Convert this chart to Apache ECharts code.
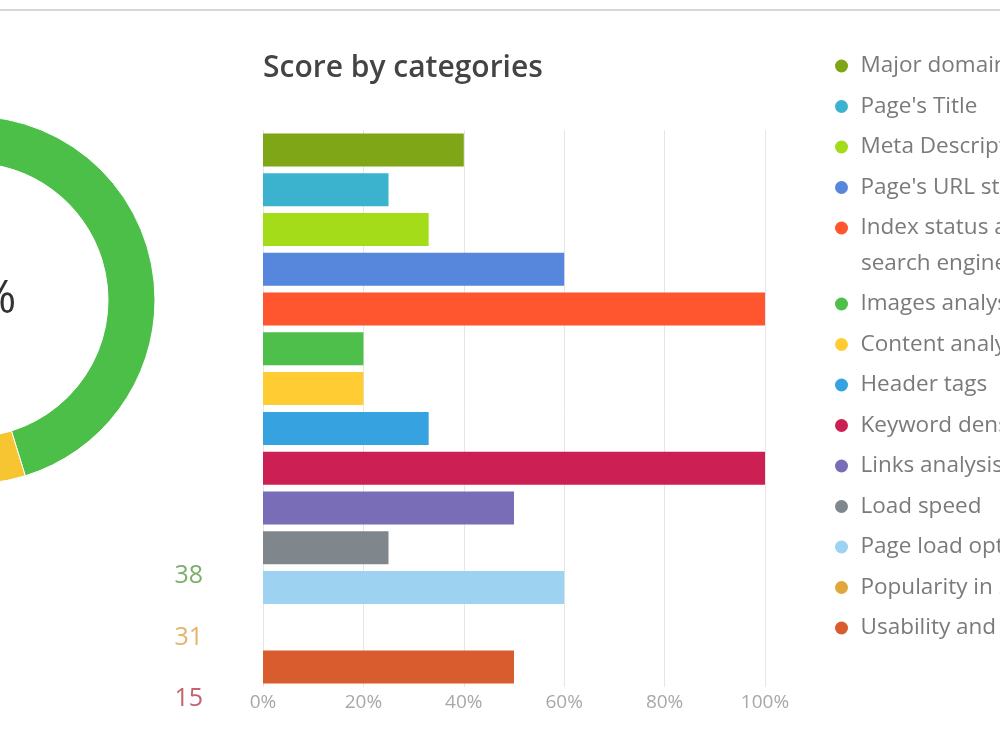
<!DOCTYPE html>
<html>
<head>
<meta charset="utf-8">
<script src="https://cdn.jsdelivr.net/npm/echarts@6/dist/echarts.min.js"></script>
<style>
  html, body { margin: 0; padding: 0; background: #fff; }
  #main { width: 1000px; height: 750px; }
</style>
</head>
<body>
<div id="main"></div>
<script>
// bar chart data
var categories = [
  'Major domain name', "Page's Title", 'Meta Description', "Page's URL structure",
  'Index status and search engines', 'Images analysis', 'Content analysis', 'Header tags',
  'Keyword density', 'Links analysis', 'Load speed', 'Page load optimization',
  'Popularity in social networks', 'Usability and accessibility'
];
var scores = [40, 25, 33, 60, 100, 20, 20, 33, 100, 50, 25, 60, 0, 50];
var barColors = [
  '#7ea617', '#3bb3cf', '#a5dc19', '#5687dc', '#ff5630', '#4dbf4a', '#ffcc33',
  '#36a2e0', '#cc1f53', '#7a6db8', '#7f878c', '#9dd2f0', '#e0a83a', '#d85c2e'
];
var xTicks = [0, 20, 40, 60, 80, 100];

// donut on the left
var donutNames = ['Passed', 'Warnings', 'Errors'];
var donutValues = [38, 31, 15];
var donutColors = ['#4cbf48', '#f7c531', '#d9534f'];
var donutTextColors = ['#7ab06a', '#e6b36a', '#c4626e'];

var total = donutValues.reduce(function (a, b) { return a + b; }, 0);
var pct = Math.round(donutValues[0] / total * 100) + '%';

var chart = echarts.init(document.getElementById('main'));

var series = categories.map(function (name, i) {
  return {
    name: name,
    type: 'bar',
    stack: 'all',
    barWidth: 33,
    itemStyle: { color: barColors[i] },
    data: categories.map(function (c, j) { return j === i ? scores[i] : '-'; })
  };
});

series.push({
  type: 'pie',
  center: [-29, 300],
  radius: [137, 184],
  startAngle: 90,
  silent: true,
  label: { show: false },
  itemStyle: { borderColor: '#fff', borderWidth: 1 },
  data: donutNames.map(function (n, i) {
    return { name: n, value: donutValues[i], itemStyle: { color: donutColors[i] } };
  })
});

var legendBase = {
  orient: 'vertical',
  left: 830,
  icon: 'circle',
  itemWidth: 28,
  itemHeight: 13,
  itemGap: 0.5,
  selectedMode: false,
  textStyle: { fontFamily: 'Open Sans', fontSize: 22.5, color: '#7a7a7a', lineHeight: 40 }
};

var graphics = [
  { type: 'rect', shape: { x: 0, y: 9, width: 1000, height: 2 }, style: { fill: '#d6d6d6' } },
  { type: 'text', x: -29, y: 300,
    style: { text: pct, font: '46px "Open Sans"', fill: '#333', align: 'center', verticalAlign: 'middle' } },
  { type: 'text', x: 861, y: 264,
    style: { text: 'search engines', font: '22.5px "Open Sans"', fill: '#7a7a7a', align: 'left', verticalAlign: 'middle' } }
];
donutValues.forEach(function (v, i) {
  graphics.push({
    type: 'text', x: 203, y: 576 + i * 61.5,
    style: { text: String(v), font: '25px "Open Sans"', fill: donutTextColors[i], align: 'right', verticalAlign: 'middle' }
  });
});

chart.setOption({
  animation: false,
  title: {
    text: 'Score by categories',
    left: 258,
    top: 48,
    textStyle: { fontFamily: 'Open Sans', fontSize: 30, fontWeight: 600, color: '#444' }
  },
  legend: [
    Object.assign({}, legendBase, { top: 41, data: categories.slice(0, 5) }),
    Object.assign({}, legendBase, { top: 279, data: categories.slice(5) })
  ],
  grid: { left: 263, right: 235, top: 130, bottom: 63 },
  xAxis: {
    type: 'value',
    min: xTicks[0],
    max: xTicks[xTicks.length - 1],
    interval: 20,
    axisLine: { show: false },
    axisTick: { show: false },
    axisLabel: { formatter: '{value}%', color: '#a8a8a8', fontSize: 19, fontFamily: 'Open Sans', margin: 6 },
    splitLine: { lineStyle: { color: '#e6e6e6' } }
  },
  yAxis: {
    type: 'category',
    inverse: true,
    data: categories,
    axisLine: { show: false },
    axisTick: { show: false },
    axisLabel: { show: false }
  },
  graphic: graphics,
  series: series
});
</script>
</body>
</html>
